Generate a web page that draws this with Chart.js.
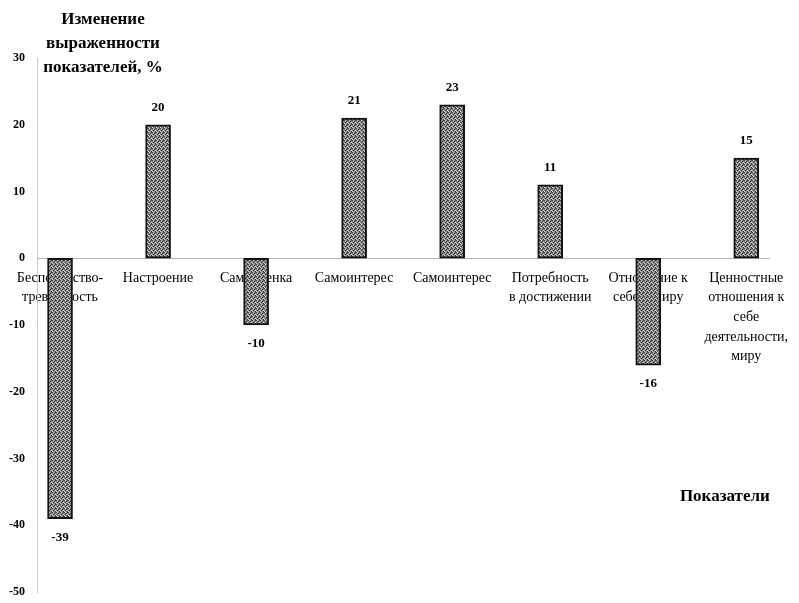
<!DOCTYPE html>
<html>
<head>
<meta charset="utf-8">
<script src="https://cdn.jsdelivr.net/npm/chart.js@4/dist/chart.umd.min.js"></script>
<style>
	html, body { margin: 0; padding: 0; background: #fff; }
	#wrap { width: 799px; height: 603px; }
</style>
</head>
<body>
<div id="wrap"><canvas id="changeChart"></canvas></div>
<script>
const categories = [
	['Беспокойство-', 'тревожность'],
	['Настроение'],
	['Самооценка'],
	['Самоинтерес'],
	['Самоинтерес'],
	['Потребность', 'в достижении'],
	['Отношение к', 'себе и миру'],
	['Ценностные', 'отношения к', 'себе', 'деятельности,', 'миру']
];
const changeValues = [-39, 20, -10, 21, 23, 11, -16, 15];
const yTicks = [30, 20, 10, 0, -10, -20, -30, -40, -50];
const yTitleLines = ['Изменение', 'выраженности', 'показателей, %'];
const xTitle = 'Показатели';

(() => {
	'use strict'

	const serif = '"Liberation Serif", "DejaVu Serif", serif';
	const ctx = document.getElementById('changeChart');

	const points = changeValues.map((value, index) => ({ x: index, y: value }));

	// stippled grey fill, like the scanned bars
	function makeStipple() {
		const tile = document.createElement('canvas');
		tile.width = 4;
		tile.height = 4;
		const t = tile.getContext('2d');
		t.fillStyle = '#8c8c8c';
		t.fillRect(0, 0, 4, 4);
		t.fillStyle = '#3c3c3c';
		[[0, 0], [2, 1], [1, 2], [3, 3], [3, 0]].forEach(([x, y]) => t.fillRect(x, y, 1, 1));
		t.fillStyle = '#d4d4d4';
		[[1, 0], [3, 2], [0, 3]].forEach(([x, y]) => t.fillRect(x, y, 1, 1));
		return t.createPattern(tile, 'repeat');
	}

	const valueLabels = {
		id: 'valueLabels',
		afterDatasetsDraw(chart) {
			const c = chart.ctx;
			const meta = chart.getDatasetMeta(0);
			c.save();
			c.font = 'bold 13px ' + serif;
			c.fillStyle = '#000';
			c.textAlign = 'center';
			c.textBaseline = 'middle';
			meta.data.forEach((bar, i) => {
				const value = changeValues[i];
				const y = value >= 0 ? bar.y - 17 : bar.y + 19;
				c.fillText(String(value), bar.x, y);
			});
			c.restore();
		}
	};

	const axisTitles = {
		id: 'axisTitles',
		afterDraw(chart) {
			const c = chart.ctx;
			const area = chart.chartArea;
			c.save();
			c.font = 'bold 17px ' + serif;
			c.fillStyle = '#000';
			c.textAlign = 'center';
			c.textBaseline = 'middle';
			yTitleLines.forEach((line, i) => {
				c.fillText(line, area.left + 66, 20 + i * 24);
			});
			c.textAlign = 'right';
			c.fillText(xTitle, area.right, 497);
			c.restore();
		}
	};

	new Chart(ctx, {
		type: 'bar',
		data: {
			datasets: [{
				data: points,
				backgroundColor: makeStipple(),
				borderColor: '#111',
				borderWidth: 2,
				borderSkipped: false,
				barThickness: 25
			}]
		},
		options: {
			responsive: true,
			maintainAspectRatio: false,
			animation: false,
			layout: {
				padding: { top: 58, right: 29, bottom: 11, left: 0 }
			},
			plugins: {
				legend: { display: false },
				tooltip: { enabled: false }
			},
			scales: {
				x: {
					type: 'linear',
					position: { y: 0 },
					offset: false,
					min: -0.235,
					max: 7.24,
					afterBuildTicks(scale) {
						scale.ticks = categories.map((_, i) => ({ value: i }));
					},
					grid: { display: false, drawTicks: false, offset: false },
					border: { display: true, color: '#b5b5b5', width: 1, dash: [3, 2] },
					ticks: {
						padding: 10,
						autoSkip: false,
						maxRotation: 0,
						font: { family: serif, size: 14, lineHeight: 1.4 },
						color: '#000',
						callback: function(value) {
							return categories[value];
						}
					}
				},
				y: {
					min: -50,
					max: 30,
					afterFit(scale) {
						scale.width = 37;
						scale.paddingTop = 0;
						scale.paddingBottom = 0;
					},
					afterBuildTicks(scale) {
						scale.ticks = yTicks.map((v) => ({ value: v }));
					},
					grid: { display: false, drawTicks: false },
					border: { display: true, color: '#c8c8c8', width: 1, dash: [3, 3] },
					ticks: {
						padding: 12,
						font: { family: serif, size: 12, weight: 'bold' },
						color: '#000'
					}
				}
			}
		},
		plugins: [valueLabels, axisTitles]
	});
})()
</script>
</body>
</html>
